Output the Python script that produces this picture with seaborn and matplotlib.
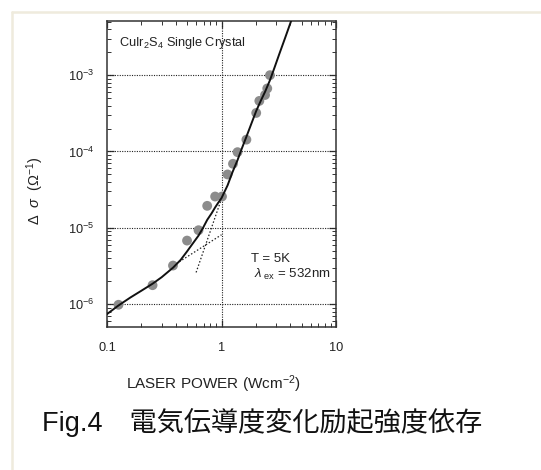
import numpy as np
import pandas as pd
import matplotlib
matplotlib.use("Agg")
import matplotlib.pyplot as plt
import seaborn as sns
from matplotlib.lines import Line2D
from matplotlib.ticker import LogLocator, NullFormatter

# measured points (laser power W/cm2, delta sigma 1/ohm)
power = [0.126, 0.25, 0.377, 0.50, 0.63, 0.75, 0.88, 1.01, 1.13, 1.26,
         1.38, 1.65, 2.01, 2.14, 2.40, 2.51, 2.65]
dsigma = [9.8e-7, 1.77e-6, 3.2e-6, 6.8e-6, 9.3e-6, 1.94e-5, 2.57e-5, 2.57e-5,
          5.0e-5, 6.9e-5, 9.8e-5, 1.43e-4, 3.2e-4, 4.6e-4, 5.5e-4, 6.7e-4, 1.0e-3]

# solid fit curve
fit_x = [0.10, 0.126, 0.16, 0.20, 0.25, 0.30, 0.377, 0.44, 0.50, 0.56, 0.63, 0.69,
         0.75, 0.82, 0.88, 0.94, 1.0, 1.13, 1.25, 1.38, 1.5, 1.65, 1.82, 2.01,
         2.2, 2.40, 2.65, 2.9, 3.2, 3.6, 4.05, 4.4]
fit_y = [7.4e-7, 9.6e-7, 1.22e-6, 1.5e-6, 1.85e-6, 2.25e-6, 3.0e-6, 3.8e-6, 4.9e-6,
         6.2e-6, 7.9e-6, 1.0e-5, 1.27e-5, 1.55e-5, 1.85e-5, 2.15e-5, 2.45e-5, 3.6e-5,
         5.4e-5, 7.7e-5, 1.08e-4, 1.56e-4, 2.3e-4, 3.4e-4, 4.6e-4, 6.05e-4, 8.6e-4,
         1.25e-3, 1.9e-3, 3.1e-3, 5.1e-3, 7.0e-3]

# dotted components
lin_x = [0.38, 1.0]
lin_y = [3.2e-6, 8.1e-6]
pow_x = [0.60, 0.99]
pow_y = [2.6e-6, 2.3e-5]

sns.set_style("ticks")
plt.rcParams['font.family'] = ['Liberation Sans', 'Noto Sans CJK JP', 'DejaVu Sans']
plt.rcParams['mathtext.fontset'] = 'custom'
plt.rcParams['mathtext.rm'] = 'Liberation Sans'
plt.rcParams['mathtext.it'] = 'Liberation Sans:italic'
plt.rcParams['mathtext.bf'] = 'Liberation Sans:bold'

W, H = 541, 470
fig = plt.figure(figsize=(W / 100, H / 100), dpi=100)
fig.patch.set_facecolor("white")

# thin beige frame lines of the page
frame_c = "#efebdd"
fig.add_artist(Line2D([11.5 / W, 1], [1 - 11.5 / H, 1 - 11.5 / H], color=frame_c, lw=1.8,
                      transform=fig.transFigure))
fig.add_artist(Line2D([11.5 / W, 11.5 / W], [0, 1 - 11.5 / H], color=frame_c, lw=1.8,
                      transform=fig.transFigure))

ax = fig.add_axes([107 / W, 1 - 327 / H, (336 - 107) / W, (327 - 21) / H])
ax.set_xscale("log")
ax.set_yscale("log")

# grid
for yv in [1e-6, 1e-5, 1e-4, 1e-3]:
    ax.axhline(yv, color="#222222", lw=0.8, ls=(0, (1, 1.2)), zorder=1)
ax.axvline(1, color="#222222", lw=0.8, ls=(0, (1, 1.2)), zorder=1)

sns.lineplot(x=lin_x, y=lin_y, ax=ax, color="#222222", lw=0.9, ls=(0, (1.2, 1.6)),
             estimator=None, sort=False, zorder=2)
sns.lineplot(x=pow_x, y=pow_y, ax=ax, color="#222222", lw=0.9, ls=(0, (1.2, 1.6)),
             estimator=None, sort=False, zorder=2)
sns.scatterplot(x=power, y=dsigma, ax=ax, color="#8c8c8c", s=50, edgecolor="none",
                zorder=3)
sns.lineplot(x=fit_x, y=fit_y, ax=ax, color="#111111", lw=1.4, estimator=None,
             sort=False, zorder=4)

# ticks
ax.xaxis.set_minor_locator(LogLocator(base=10, subs=np.arange(2, 10), numticks=20))
ax.yaxis.set_minor_locator(LogLocator(base=10, subs=np.arange(2, 10), numticks=20))
ax.xaxis.set_minor_formatter(NullFormatter())
ax.yaxis.set_minor_formatter(NullFormatter())
ax.set_xticks([0.1, 1, 10])
ax.set_xticklabels(["0.1", "1", "10"])
ax.set_yticks([1e-6, 1e-5, 1e-4, 1e-3])
ax.set_yticklabels([r"10$^{-6}$", r"10$^{-5}$", r"10$^{-4}$", r"10$^{-3}$"])
ax.tick_params(which="both", direction="in", top=True, right=True, colors="#333333",
               labelcolor="#222222", labelsize=9.2)
ax.tick_params(which="major", length=5, width=0.9)
ax.tick_params(axis="x", which="major", pad=11)
ax.tick_params(axis="y", which="major", pad=9)
ax.tick_params(which="minor", length=2.8, width=0.7)
ax.set_xlim(0.1, 10)
ax.set_ylim(10 ** -6.3, 10 ** -2.29)
for sp in ax.spines.values():
    sp.set_color("#333333")
    sp.set_linewidth(1.1)

ax.set_xlabel("")
ax.set_ylabel("")

fig.text(119 / W, 1 - 43 / H, r"CuIr$_2$S$_4$ Single Crystal", fontsize=9.2,
         color="#222222", va="center", ha="left")
fig.text(251 / W, 1 - 259 / H, "T = 5K", fontsize=9.5, color="#222222",
         va="center", ha="left")
fig.text(254 / W, 1 - 274 / H, r"$\mathit{\lambda}_{\rm\ ex}$ = 532nm", fontsize=9.5,
         color="#222222", va="center", ha="left")

fig.text(35 / W, 1 - 191 / H, r"$\Delta$  $\mathit{\sigma}$  ($\Omega^{-1}$)", fontsize=10.5,
         rotation=90, color="#222222", va="center", ha="center")
fig.text(213 / W, 1 - 384 / H, r"LASER POWER (Wcm$^{-2}$)", fontsize=11,
         color="#222222", va="center", ha="center")

fig.text(42 / W, 1 - 423 / H, "Fig.4\u3000電気伝導度変化励起強度依存", fontsize=19.5,
         color="#111111", va="center", ha="left")

fig.savefig("out.png", dpi=100)
